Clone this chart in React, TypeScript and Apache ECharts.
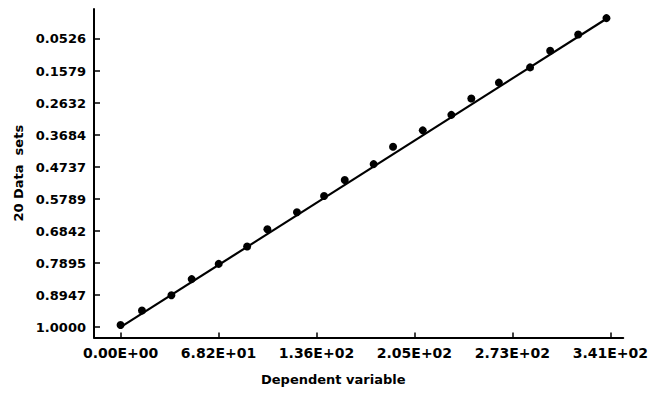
import React, { useEffect, useRef } from "react";
import * as echarts from "echarts";

const xValues = [0, 14.9, 35.4, 49.5, 68.3, 88.1, 102.2, 122.8, 141.7, 156.1, 176.2, 189.7, 210.4, 230.3, 244.2, 263.4, 285.1, 299.1, 318.6, 338.3];
const yValues = [0.993, 0.945, 0.895, 0.842, 0.792, 0.735, 0.678, 0.622, 0.569, 0.516, 0.464, 0.407, 0.353, 0.302, 0.248, 0.196, 0.146, 0.091, 0.038, -0.016];
const fitX = [0, 338.3];
const fitY = [1.0, -0.014];

const xTickValues = [0, 68.2, 136.4, 204.6, 272.8, 341];
const xTickLabels = ["0.00E+00", "6.82E+01", "1.36E+02", "2.05E+02", "2.73E+02", "3.41E+02"];
const yTickValues = [0.0526, 0.1579, 0.2632, 0.3684, 0.4737, 0.5789, 0.6842, 0.7895, 0.8947, 1.0];
const yTickLabels = ["0.0526", "0.1579", "0.2632", "0.3684", "0.4737", "0.5789", "0.6842", "0.7895", "0.8947", "1.0000"];

const FONT = "DejaVu Sans";

export default function App() {
  const ref = useRef<HTMLDivElement>(null);
  useEffect(() => {
    if (!ref.current) return;
    const chart = echarts.init(ref.current, null, { renderer: "svg" });
    const fmt = (vals: number[], labels: string[]) => (v: number) => {
      let best = 0;
      for (let i = 1; i < vals.length; i++) if (Math.abs(vals[i] - v) < Math.abs(vals[best] - v)) best = i;
      return labels[best];
    };
    chart.setOption({
      animation: false,
      backgroundColor: "#ffffff",
      grid: { left: 94, right: 19, top: 9, bottom: 55.5, containLabel: false },
      xAxis: {
        type: "value",
        min: -18.5,
        max: 350,
        axisLine: { show: true, onZero: false, lineStyle: { color: "#000", width: 2 } },
        axisTick: { show: true, inside: true, length: 5, lineStyle: { color: "#000", width: 1.5 }, customValues: xTickValues },
        axisLabel: {
          show: true,
          customValues: xTickValues,
          formatter: fmt(xTickValues, xTickLabels),
          color: "#000",
          fontFamily: FONT,
          fontWeight: "bold",
          fontSize: 14,
          margin: 8,
          hideOverlap: false,
        },
        splitLine: { show: false },
      },
      yAxis: {
        type: "value",
        inverse: true,
        min: -0.046,
        max: 1.034,
        name: "20 Data  sets",
        nameLocation: "middle",
        nameGap: 68,
        nameRotate: 90,
        nameTextStyle: { color: "#000", fontFamily: FONT, fontWeight: "bold", fontSize: 13 },
        axisLine: { show: true, onZero: false, lineStyle: { color: "#000", width: 2 } },
        axisTick: { show: true, inside: true, length: 6, lineStyle: { color: "#000", width: 1.5 }, customValues: yTickValues },
        axisLabel: {
          show: true,
          customValues: yTickValues,
          formatter: fmt(yTickValues, yTickLabels),
          color: "#000",
          fontFamily: FONT,
          fontWeight: "bold",
          fontSize: 13,
          margin: 8,
          hideOverlap: false,
        },
        splitLine: { show: false },
      },
      graphic: [
        {
          type: "text",
          left: 334 - 73,
          top: 373,
          style: { text: "Dependent variable", fill: "#000", font: `bold 13px "${FONT}"` },
        },
      ],
      series: [
        {
          type: "line",
          data: fitX.map((x, i) => [x, fitY[i]]),
          showSymbol: false,
          lineStyle: { color: "#000", width: 2.2 },
          silent: true,
        },
        {
          type: "scatter",
          data: xValues.map((x, i) => [x, yValues[i]]),
          symbol: "circle",
          symbolSize: 8,
          itemStyle: { color: "#000", opacity: 1 },
        },
      ],
    });
    return () => chart.dispose();
  }, []);
  return <div ref={ref} style={{ position: "absolute", left: 0, top: 0, width: 651, height: 393 }} />;
}
